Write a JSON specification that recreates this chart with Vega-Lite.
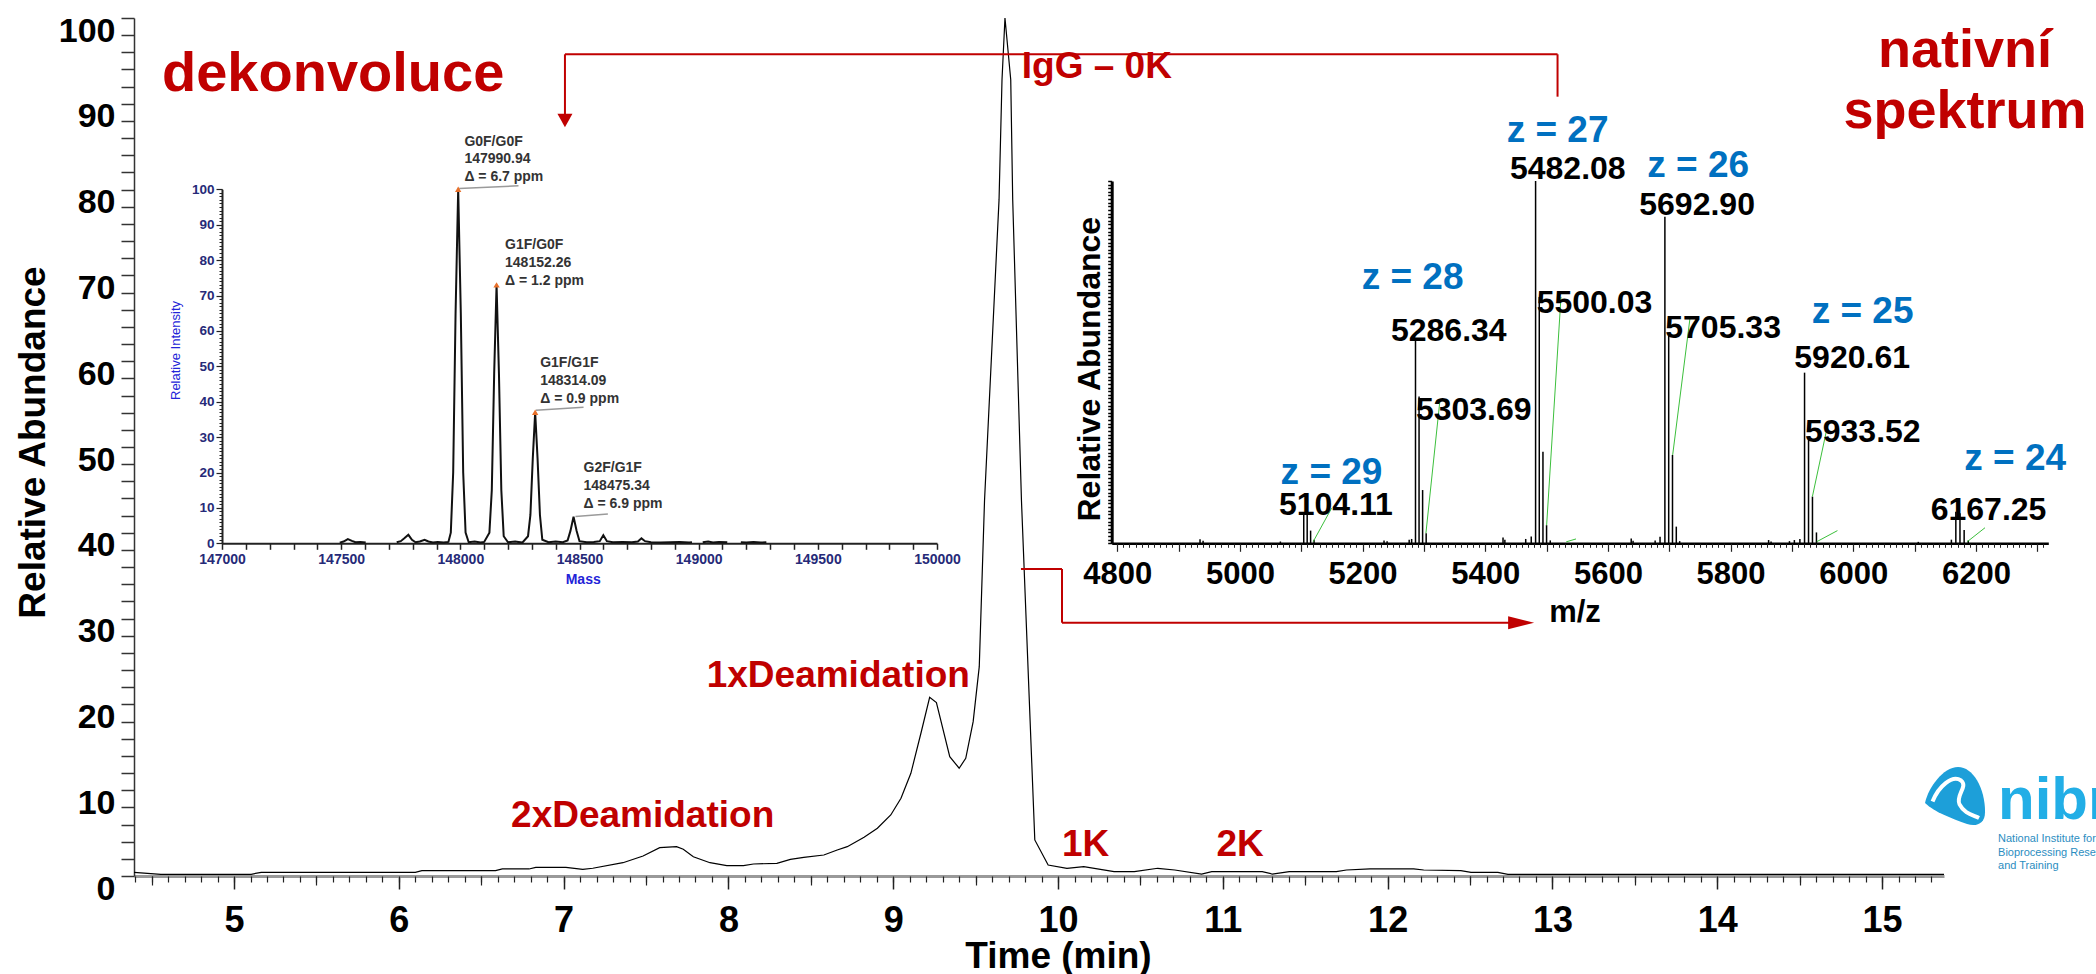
{
  "$schema": "https://vega.github.io/schema/vega-lite/v6.json",
  "width": 1810,
  "height": 858,
  "autosize": {"type": "none"},
  "padding": {"left": 134, "top": 18, "right": 152, "bottom": 98},
  "background": "white",
  "config": {"view": {"stroke": null}, "font": "Liberation Sans", "axis": {"grid": false}},
  "datasets": {
    "main": [
      {"t":4.393,"a":0.43},{"t":4.556,"a":0.2},{"t":5.104,"a":0.2},{"t":5.165,"a":0.43},{"t":6.10,"a":0.43},{"t":6.14,"a":0.62},{"t":6.587,"a":0.62},{"t":6.628,"a":0.82},{"t":6.79,"a":0.82},{"t":6.831,"a":1.01},{"t":7.014,"a":1.01},{"t":7.116,"a":0.78},{"t":7.177,"a":0.9},{"t":7.36,"a":1.55},{"t":7.482,"a":2.33},{"t":7.583,"a":3.3},{"t":7.685,"a":3.42},{"t":7.726,"a":3.11},{"t":7.787,"a":2.25},{"t":7.888,"a":1.55},{"t":7.99,"a":1.2},{"t":8.091,"a":1.2},{"t":8.152,"a":1.4},{"t":8.294,"a":1.48},{"t":8.376,"a":1.94},{"t":8.457,"a":2.18},{"t":8.579,"a":2.45},{"t":8.66,"a":3.03},{"t":8.721,"a":3.42},{"t":8.823,"a":4.51},{"t":8.904,"a":5.56},{"t":8.985,"a":7.11},{"t":9.047,"a":9.06},{"t":9.107,"a":11.97},{"t":9.168,"a":16.64},{"t":9.221,"a":20.83},{"t":9.262,"a":20.21},{"t":9.343,"a":13.91},{"t":9.4,"a":12.56},{"t":9.44,"a":13.72},{"t":9.485,"a":17.99},{"t":9.522,"a":24.4},{"t":9.554,"a":43.8},{"t":9.642,"a":78.8},{"t":9.66,"a":92.8},{"t":9.678,"a":100},{"t":9.713,"a":92.8},{"t":9.725,"a":78.8},{"t":9.778,"a":43.8},{"t":9.859,"a":4.2},{"t":9.94,"a":1.28},{"t":10.054,"a":0.9},{"t":10.156,"a":1.09},{"t":10.34,"a":0.5},{"t":10.463,"a":0.5},{"t":10.605,"a":0.9},{"t":10.708,"a":0.7},{"t":10.871,"a":0.23},{"t":10.933,"a":0.5},{"t":11.239,"a":0.5},{"t":11.3,"a":0.23},{"t":11.403,"a":0.5},{"t":11.689,"a":0.5},{"t":11.75,"a":0.7},{"t":11.893,"a":0.82},{"t":12.158,"a":0.82},{"t":12.219,"a":0.7},{"t":12.444,"a":0.62},{"t":12.506,"a":0.43},{"t":12.669,"a":0.43},{"t":12.73,"a":0.2},{"t":15.376,"a":0.2}
    ],
    "redSmall": [
      {"t":9.78,"a":92.97,"label":"IgG – 0K"},
      {"t":7.868,"a":22.06,"label":"1xDeamidation"},
      {"t":6.681,"a":5.75,"label":"2xDeamidation"},
      {"t":10.024,"a":2.33,"label":"1K"},
      {"t":10.961,"a":2.33,"label":"2K"}
    ],
    "redBigLeft": [{"t":4.563,"a":91.53,"label":"dekonvoluce"}],
    "redBigCenter": [
      {"t":15.503,"a":94.32,"label":"nativní"},
      {"t":15.503,"a":87.18,"label":"spektrum"}
    ],
    "arrows": [
      {"t1":7.008,"a1":95.77,"t2":13.031,"a2":95.77},
      {"t1":7.008,"a1":95.77,"t2":7.008,"a2":88.6},
      {"t1":13.031,"a1":95.77,"t2":13.031,"a2":90.83},
      {"t1":9.775,"a1":35.78,"t2":10.024,"a2":35.78},
      {"t1":10.024,"a1":35.78,"t2":10.024,"a2":29.52},
      {"t1":10.024,"a1":29.52,"t2":12.75,"a2":29.52}
    ],
    "headDown": [{"t":7.008,"a":88.05}],
    "headRight": [{"t":12.81,"a":29.52}],
    "logoBig": [{"t":15.704,"a":6.61,"label":"nibrt"}],
    "logoSmall": [
      {"t":15.704,"a":4.0,"label":"National Institute for"},
      {"t":15.704,"a":2.33,"label":"Bioprocessing Research"},
      {"t":15.704,"a":0.78,"label":"and Training"}
    ],
    "logoIcon": [{"t":15.443,"a":9.21}],
    "dec": [
      {"m":147494,"v":0.2,"seg":1},{"m":147510,"v":0.5,"seg":1},{"m":147528,"v":1.2,"seg":1},{"m":147545,"v":0.7,"seg":1},{"m":147560,"v":0.3,"seg":1},{"m":147580,"v":0.4,"seg":1},{"m":147603,"v":0.2,"seg":1},
      {"m":147733,"v":0.3,"seg":2},{"m":147750,"v":0.6,"seg":2},{"m":147765,"v":1.4,"seg":2},{"m":147782,"v":2.4,"seg":2},{"m":147797,"v":1.0,"seg":2},{"m":147812,"v":0.3,"seg":2},{"m":147830,"v":0.5,"seg":2},{"m":147850,"v":1.0,"seg":2},{"m":147866,"v":0.5,"seg":2},{"m":147885,"v":0.2,"seg":2},{"m":147905,"v":0.4,"seg":2},{"m":147930,"v":0.2,"seg":2},{"m":147950,"v":0.4,"seg":2},{"m":147960,"v":3,"seg":2},{"m":147970,"v":20,"seg":2},{"m":147980,"v":65,"seg":2},{"m":147991,"v":100,"seg":2},{"m":148002,"v":65,"seg":2},{"m":148012,"v":20,"seg":2},{"m":148022,"v":3,"seg":2},{"m":148035,"v":0.3,"seg":2},{"m":148060,"v":0.5,"seg":2},{"m":148085,"v":0.2,"seg":2},{"m":148100,"v":0.4,"seg":2},{"m":148122,"v":3,"seg":2},{"m":148132,"v":15,"seg":2},{"m":148142,"v":48,"seg":2},{"m":148152,"v":73,"seg":2},{"m":148162,"v":48,"seg":2},{"m":148172,"v":15,"seg":2},{"m":148182,"v":2,"seg":2},{"m":148200,"v":0.3,"seg":2},{"m":148230,"v":0.5,"seg":2},{"m":148260,"v":0.2,"seg":2},{"m":148284,"v":2,"seg":2},{"m":148294,"v":8,"seg":2},{"m":148304,"v":24,"seg":2},{"m":148314,"v":37,"seg":2},{"m":148324,"v":24,"seg":2},{"m":148334,"v":8,"seg":2},{"m":148344,"v":1,"seg":2},{"m":148370,"v":0.3,"seg":2},{"m":148400,"v":0.5,"seg":2},{"m":148430,"v":0.3,"seg":2},{"m":148450,"v":0.8,"seg":2},{"m":148462,"v":3.5,"seg":2},{"m":148475,"v":7.5,"seg":2},{"m":148488,"v":3.5,"seg":2},{"m":148500,"v":0.6,"seg":2},{"m":148530,"v":0.3,"seg":2},{"m":148560,"v":0.4,"seg":2},{"m":148585,"v":0.6,"seg":2},{"m":148600,"v":2.3,"seg":2},{"m":148615,"v":0.6,"seg":2},{"m":148640,"v":0.3,"seg":2},{"m":148680,"v":0.4,"seg":2},{"m":148720,"v":0.3,"seg":2},{"m":148745,"v":0.5,"seg":2},{"m":148760,"v":1.4,"seg":2},{"m":148775,"v":0.6,"seg":2},{"m":148800,"v":0.3,"seg":2},{"m":148840,"v":0.2,"seg":2},{"m":148880,"v":0.3,"seg":2},{"m":148920,"v":0.4,"seg":2},{"m":148960,"v":0.2,"seg":2},{"m":148972,"v":0.3,"seg":2},
      {"m":149017,"v":0.3,"seg":3},{"m":149040,"v":0.5,"seg":3},{"m":149060,"v":0.2,"seg":3},{"m":149085,"v":0.4,"seg":3},{"m":149120,"v":0.3,"seg":3},
      {"m":149177,"v":0.3,"seg":4},{"m":149200,"v":0.2,"seg":4},{"m":149230,"v":0.4,"seg":4},{"m":149260,"v":0.2,"seg":4},{"m":149284,"v":0.3,"seg":4}
    ],
    "decTops": [{"m":147991,"v":100},{"m":148152,"v":73},{"m":148314,"v":37}],
    "decLeaders": [
      {"m1":147995,"v1":100.2,"m2":148244,"v2":101},
      {"m1":148317,"v1":37.6,"m2":148517,"v2":38.4},
      {"m1":148483,"v1":7.6,"m2":148619,"v2":8.3}
    ],
    "decLabels": [
      {"m":148017,"v":112.3,"label":"G0F/G0F"},{"m":148017,"v":107.3,"label":"147990.94"},{"m":148017,"v":102.3,"label":"Δ = 6.7 ppm"},
      {"m":148187.5,"v":83.05,"label":"G1F/G0F"},{"m":148187.5,"v":78.0,"label":"148152.26"},{"m":148187.5,"v":72.97,"label":"Δ = 1.2 ppm"},
      {"m":148335,"v":49.9,"label":"G1F/G1F"},{"m":148335,"v":44.7,"label":"148314.09"},{"m":148335,"v":39.7,"label":"Δ = 0.9 ppm"},
      {"m":148517,"v":20.06,"label":"G2F/G1F"},{"m":148517,"v":15.06,"label":"148475.34"},{"m":148517,"v":9.9,"label":"Δ = 6.9 ppm"}
    ],
    "nat": [
      {"mz":4935,"ab":1.1},{"mz":4940,"ab":0.7},{"mz":5066,"ab":0.5},{"mz":5104.1,"ab":8.3},{"mz":5109.7,"ab":7.8},{"mz":5115.3,"ab":3.5},{"mz":5120.9,"ab":1.0},{"mz":5235,"ab":0.8},{"mz":5240,"ab":0.6},{"mz":5276,"ab":1.0},{"mz":5280,"ab":1.2},{"mz":5286.3,"ab":56.1},{"mz":5292.1,"ab":40.5},{"mz":5297.9,"ab":14.7},{"mz":5303.7,"ab":2.8},{"mz":5429,"ab":1.6},{"mz":5432,"ab":1.0},{"mz":5466,"ab":1.2},{"mz":5475,"ab":1.9},{"mz":5482.1,"ab":100},{"mz":5488.1,"ab":68},{"mz":5494.1,"ab":25.3},{"mz":5500.0,"ab":5.0},{"mz":5506,"ab":0.8},{"mz":5638,"ab":1.3},{"mz":5641,"ab":0.7},{"mz":5677,"ab":0.8},{"mz":5685,"ab":1.8},{"mz":5692.9,"ab":90.1},{"mz":5699.1,"ab":58},{"mz":5705.3,"ab":24.4},{"mz":5711.5,"ab":4.6},{"mz":5717,"ab":0.6},{"mz":5862,"ab":0.9},{"mz":5866,"ab":0.5},{"mz":5896,"ab":0.6},{"mz":5904,"ab":0.9},{"mz":5913,"ab":1.2},{"mz":5920.6,"ab":47.1},{"mz":5927.1,"ab":29.4},{"mz":5933.5,"ab":12.9},{"mz":5940.0,"ab":3.0},{"mz":6106,"ab":0.4},{"mz":6160,"ab":1.0},{"mz":6167.25,"ab":8.7},{"mz":6174.0,"ab":8.3},{"mz":6180.8,"ab":3.7},{"mz":6187.5,"ab":0.8}
    ],
    "natLeaders": [
      {"m1":5119.5,"v1":0.45,"m2":5149.5,"v2":9.7},
      {"m1":5303.3,"v1":2.8,"m2":5326.2,"v2":39.6},
      {"m1":5500.1,"v1":5.0,"m2":5523.5,"v2":68},
      {"m1":5532,"v1":0.4,"m2":5548,"v2":1.2},
      {"m1":5705.6,"v1":24.4,"m2":5733.8,"v2":62.1},
      {"m1":5933.4,"v1":12.9,"m2":5959.5,"v2":33.6},
      {"m1":5940.6,"v1":0.45,"m2":5974.2,"v2":3.5},
      {"m1":6186,"v1":0.45,"m2":6214.8,"v2":4.3}
    ],
    "natLabels": [
      {"mz":5063.7,"ab":7.8,"label":"5104.11"},
      {"mz":5246.3,"ab":55.9,"label":"5286.34"},
      {"mz":5287.0,"ab":34.0,"label":"5303.69"},
      {"mz":5440.3,"ab":100.6,"label":"5482.08"},
      {"mz":5483.8,"ab":63.5,"label":"5500.03"},
      {"mz":5651.1,"ab":90.6,"label":"5692.90"},
      {"mz":5693.5,"ab":56.6,"label":"5705.33"},
      {"mz":5903.9,"ab":48.3,"label":"5920.61"},
      {"mz":5921.3,"ab":28.0,"label":"5933.52"},
      {"mz":6126.3,"ab":6.4,"label":"6167.25"}
    ],
    "natZ": [
      {"mz":5066.4,"ab":16.4,"label":"z = 29"},
      {"mz":5198.5,"ab":70.1,"label":"z = 28"},
      {"mz":5434.9,"ab":110.8,"label":"z = 27"},
      {"mz":5664.2,"ab":101.2,"label":"z = 26"},
      {"mz":5932.2,"ab":60.9,"label":"z = 25"},
      {"mz":6181.1,"ab":20.2,"label":"z = 24"}
    ]
  },
  "resolve": {"scale": {"x": "independent", "y": "independent"}, "axis": {"x": "independent", "y": "independent"}},
  "layer": [
    {
      "data": {"name": "main"},
      "mark": {"type": "line", "color": "black", "strokeWidth": 1.2},
      "encoding": {
        "x": {"field": "t", "type": "quantitative", "scale": {"domain": [4.393, 15.376], "nice": false, "zero": false},
          "axis": {"orient": "bottom", "title": "Time (min)", "values": [5, 6, 7, 8, 9, 10, 11, 12, 13, 14, 15],
            "labelOverlap": false, "labelFlush": false, "labelBound": false,
            "labelFont": "Liberation Sans", "labelFontWeight": "bold", "labelFontSize": 36, "labelColor": "black", "labelPadding": 14,
            "tickSize": 13,
            "tickColor": "#222", "tickWidth": 1.5, "domainColor": "#999", "domainWidth": 3,
            "titleFont": "Liberation Sans", "titleFontWeight": "bold", "titleFontSize": 37, "titleColor": "black",
            "titleX": 924, "titleY": 91, "titleBaseline": "alphabetic"}},
        "y": {"field": "a", "type": "quantitative", "scale": {"domain": [0, 100], "nice": false, "zero": false},
          "axis": {"orient": "left", "title": "Relative Abundance", "tickCount": 50,
            "labelExpr": "datum.value % 10 === 0 ? datum.label : ''",
            "labelOverlap": false, "labelFlush": false, "labelBound": false,
            "labelFont": "Liberation Sans", "labelFontWeight": "bold", "labelFontSize": 34, "labelColor": "black",
            "labelBaseline": "top", "labelOffset": -4, "labelPadding": 6,
            "tickSize": 13, "tickColor": "#333", "tickWidth": 1.5, "domainColor": "#333", "domainWidth": 1.5,
            "titleFont": "Liberation Sans", "titleFontWeight": "bold", "titleFontSize": 37, "titleColor": "black",
            "titleX": -90, "titleY": 424, "titleBaseline": "alphabetic"}}
      }
    },
    {
      "data": {"name": "arrows"},
      "mark": {"type": "rule", "color": "#c00000", "strokeWidth": 2},
      "encoding": {
        "x": {"field": "t1", "type": "quantitative", "scale": {"domain": [4.393, 15.376], "nice": false, "zero": false},
          "axis": {"orient": "bottom", "title": null, "tickCount": 110, "labels": false, "domain": false, "tickSize": 6, "tickColor": "#222", "tickWidth": 1.2}},
        "x2": {"field": "t2"},
        "y": {"field": "a1", "type": "quantitative", "scale": {"domain": [0, 100], "nice": false, "zero": false}, "axis": null},
        "y2": {"field": "a2"}
      }
    },
    {
      "data": {"name": "headDown"},
      "mark": {"type": "point", "shape": "M-1,-0.9L1,-0.9L0,0.9Z", "size": 225, "filled": true, "color": "#c00000", "opacity": 1},
      "encoding": {
        "x": {"field": "t", "type": "quantitative", "scale": {"domain": [4.393, 15.376], "nice": false, "zero": false},
          "axis": {"orient": "bottom", "title": null, "values": [4.5, 5.5, 6.5, 7.5, 8.5, 9.5, 10.5, 11.5, 12.5, 13.5, 14.5], "labels": false, "domain": false, "tickSize": 9, "tickColor": "#222", "tickWidth": 1.2}},
        "y": {"field": "a", "type": "quantitative", "scale": {"domain": [0, 100], "nice": false, "zero": false}, "axis": null}
      }
    },
    {
      "data": {"name": "headRight"},
      "mark": {"type": "point", "shape": "M-1,-0.5L1,0L-1,0.5Z", "size": 676, "filled": true, "color": "#c00000", "opacity": 1},
      "encoding": {
        "x": {"field": "t", "type": "quantitative", "scale": {"domain": [4.393, 15.376], "nice": false, "zero": false}, "axis": null},
        "y": {"field": "a", "type": "quantitative", "scale": {"domain": [0, 100], "nice": false, "zero": false}, "axis": null}
      }
    },
    {
      "data": {"name": "redSmall"},
      "mark": {"type": "text", "align": "left", "baseline": "alphabetic", "font": "Liberation Sans", "fontWeight": "bold", "fontSize": 37, "color": "#c00000"},
      "encoding": {
        "x": {"field": "t", "type": "quantitative", "scale": {"domain": [4.393, 15.376], "nice": false, "zero": false}, "axis": null},
        "y": {"field": "a", "type": "quantitative", "scale": {"domain": [0, 100], "nice": false, "zero": false}, "axis": null},
        "text": {"field": "label"}
      }
    },
    {
      "data": {"name": "redBigLeft"},
      "mark": {"type": "text", "align": "left", "baseline": "alphabetic", "font": "Liberation Sans", "fontWeight": "bold", "fontSize": 56, "color": "#c00000"},
      "encoding": {
        "x": {"field": "t", "type": "quantitative", "scale": {"domain": [4.393, 15.376], "nice": false, "zero": false}, "axis": null},
        "y": {"field": "a", "type": "quantitative", "scale": {"domain": [0, 100], "nice": false, "zero": false}, "axis": null},
        "text": {"field": "label"}
      }
    },
    {
      "data": {"name": "redBigCenter"},
      "mark": {"type": "text", "align": "center", "baseline": "alphabetic", "font": "Liberation Sans", "fontWeight": "bold", "fontSize": 54, "color": "#c00000"},
      "encoding": {
        "x": {"field": "t", "type": "quantitative", "scale": {"domain": [4.393, 15.376], "nice": false, "zero": false}, "axis": null},
        "y": {"field": "a", "type": "quantitative", "scale": {"domain": [0, 100], "nice": false, "zero": false}, "axis": null},
        "text": {"field": "label"}
      }
    },
    {
      "data": {"name": "logoIcon"},
      "mark": {"type": "point", "shape": "M0.1,-1C0.6,-1 1,-0.3 1,0.5C1,0.9 0.7,1 0.4,0.9C-0.1,0.72 -0.7,0.5 -1,0.2C-0.9,-0.3 -0.4,-1 0.1,-1Z", "size": 3600, "filled": true, "color": "#1d9fd9", "opacity": 1},
      "encoding": {
        "x": {"field": "t", "type": "quantitative", "scale": {"domain": [4.393, 15.376], "nice": false, "zero": false}, "axis": null},
        "y": {"field": "a", "type": "quantitative", "scale": {"domain": [0, 100], "nice": false, "zero": false}, "axis": null}
      }
    },
    {
      "data": {"name": "logoIcon"},
      "mark": {"type": "point", "shape": "M-0.75,0.15C-0.55,-0.35 -0.1,-0.75 0.2,-0.55C0.45,-0.35 0,-0.05 0.15,0.25C0.3,0.55 0.6,0.6 0.8,0.7", "size": 3600, "filled": false, "color": "white", "strokeWidth": 4, "opacity": 1},
      "encoding": {
        "x": {"field": "t", "type": "quantitative", "scale": {"domain": [4.393, 15.376], "nice": false, "zero": false}, "axis": null},
        "y": {"field": "a", "type": "quantitative", "scale": {"domain": [0, 100], "nice": false, "zero": false}, "axis": null}
      }
    },
    {
      "data": {"name": "logoBig"},
      "mark": {"type": "text", "align": "left", "baseline": "alphabetic", "font": "Liberation Sans", "fontWeight": "bold", "fontSize": 60, "color": "#22aee6"},
      "encoding": {
        "x": {"field": "t", "type": "quantitative", "scale": {"domain": [4.393, 15.376], "nice": false, "zero": false}, "axis": null},
        "y": {"field": "a", "type": "quantitative", "scale": {"domain": [0, 100], "nice": false, "zero": false}, "axis": null},
        "text": {"field": "label"}
      }
    },
    {
      "data": {"name": "logoSmall"},
      "mark": {"type": "text", "align": "left", "baseline": "alphabetic", "font": "Liberation Sans", "fontSize": 11, "color": "#2b8dbf"},
      "encoding": {
        "x": {"field": "t", "type": "quantitative", "scale": {"domain": [4.393, 15.376], "nice": false, "zero": false}, "axis": null},
        "y": {"field": "a", "type": "quantitative", "scale": {"domain": [0, 100], "nice": false, "zero": false}, "axis": null},
        "text": {"field": "label"}
      }
    },
    {
      "data": {"name": "dec"},
      "mark": {"type": "line", "color": "#111", "strokeWidth": 2},
      "encoding": {
        "x": {"field": "m", "type": "quantitative", "scale": {"domain": [147000, 150000], "range": [88, 803], "nice": false, "zero": false},
          "axis": {"orient": "bottom", "offset": -332.7, "title": "Mass", "tickCount": 30,
            "labelExpr": "datum.value % 500 === 0 ? format(datum.value, 'd') : ''",
            "labelOverlap": false, "labelFlush": false, "labelBound": false,
            "labelFont": "Liberation Sans", "labelFontWeight": "bold", "labelFontSize": 14, "labelColor": "#262a78", "labelPadding": 3,
            "tickSize": 6, "tickColor": "#222", "tickWidth": 1.5, "domainColor": "#222", "domainWidth": 2,
            "titleFont": "Liberation Sans", "titleFontWeight": "bold", "titleFontSize": 14, "titleColor": "#2323d8",
            "titleX": 448.7, "titleY": 40, "titleBaseline": "alphabetic"}},
        "y": {"field": "v", "type": "quantitative", "scale": {"domain": [0, 100], "range": [525.3, 171.3], "nice": false, "zero": false},
          "axis": {"orient": "left", "offset": -88, "title": "Relative Intensity", "tickCount": 10,
            "labelOverlap": false, "labelFlush": false, "labelBound": false,
            "labelFont": "Liberation Sans", "labelFontWeight": "bold", "labelFontSize": 13.5, "labelColor": "#262a78", "labelPadding": 2,
            "tickSize": 6,
            "tickColor": "#222", "tickWidth": 1.2, "domainColor": "#222", "domainWidth": 2,
            "titleFont": "Liberation Sans", "titleFontWeight": "normal", "titleFontSize": 13, "titleColor": "#2323d8",
            "titleX": -43, "titleY": 332, "titleBaseline": "alphabetic"}},
        "detail": {"field": "seg"}
      }
    },
    {
      "data": {"name": "decLeaders"},
      "mark": {"type": "rule", "color": "#9a9a9a", "strokeWidth": 1.5},
      "encoding": {
        "x": {"field": "m1", "type": "quantitative", "scale": {"domain": [147000, 150000], "range": [88, 803], "nice": false, "zero": false}, "axis": null},
        "x2": {"field": "m2"},
        "y": {"field": "v1", "type": "quantitative", "scale": {"domain": [0, 100], "range": [525.3, 171.3], "nice": false, "zero": false},
          "axis": {"orient": "left", "offset": -88, "title": null, "tickCount": 100, "labels": false, "domain": false, "tickSize": 3, "tickColor": "#222", "tickWidth": 1}},
        "y2": {"field": "v2"}
      }
    },
    {
      "data": {"name": "decTops"},
      "mark": {"type": "point", "shape": "triangle-up", "size": 40, "filled": true, "color": "#e8702a", "opacity": 1},
      "encoding": {
        "x": {"field": "m", "type": "quantitative", "scale": {"domain": [147000, 150000], "range": [88, 803], "nice": false, "zero": false}, "axis": null},
        "y": {"field": "v", "type": "quantitative", "scale": {"domain": [0, 100], "range": [525.3, 171.3], "nice": false, "zero": false}, "axis": null}
      }
    },
    {
      "data": {"name": "decLabels"},
      "mark": {"type": "text", "align": "left", "baseline": "alphabetic", "font": "Liberation Sans", "fontWeight": "bold", "fontSize": 14, "color": "#333"},
      "encoding": {
        "x": {"field": "m", "type": "quantitative", "scale": {"domain": [147000, 150000], "range": [88, 803], "nice": false, "zero": false}, "axis": null},
        "y": {"field": "v", "type": "quantitative", "scale": {"domain": [0, 100], "range": [525.3, 171.3], "nice": false, "zero": false}, "axis": null},
        "text": {"field": "label"}
      }
    },
    {
      "data": {"name": "nat"},
      "mark": {"type": "rule", "color": "black", "strokeWidth": 1.5},
      "encoding": {
        "x": {"field": "mz", "type": "quantitative", "scale": {"domain": [4791, 6318], "range": [977.7, 1914.3], "nice": false, "zero": false},
          "axis": {"orient": "bottom", "offset": -332.7, "title": "m/z", "tickCount": 15,
            "labelExpr": "datum.value % 200 === 0 ? format(datum.value, 'd') : ''",
            "labelOverlap": false, "labelFlush": false, "labelBound": false,
            "labelFont": "Liberation Sans", "labelFontWeight": "bold", "labelFontSize": 31, "labelColor": "black", "labelPadding": 8,
            "tickSize": 8,
            "tickColor": "#222", "tickWidth": 1.2, "domainColor": "black", "domainWidth": 2.5,
            "titleFont": "Liberation Sans", "titleFontWeight": "bold", "titleFontSize": 31, "titleColor": "black",
            "titleX": 1440.5, "titleY": 78.4, "titleBaseline": "alphabetic"}},
        "y": {"field": "ab", "type": "quantitative", "scale": {"domain": [0, 100], "range": [525.3, 163], "nice": false, "zero": false},
          "axis": {"orient": "left", "offset": -977.7, "title": "Relative Abundance", "tickCount": 100, "labels": false,
            "tickSize": 4, "tickWidth": 1.5, "tickColor": "black", "domainColor": "black", "domainWidth": 3,
            "titleFont": "Liberation Sans", "titleFontWeight": "bold", "titleFontSize": 32, "titleColor": "black",
            "titleX": -12.4, "titleY": 350.7, "titleBaseline": "alphabetic"}},
        "y2": {"datum": 0}
      }
    },
    {
      "data": {"name": "natLeaders"},
      "mark": {"type": "rule", "color": "#3cbf3c", "strokeWidth": 1},
      "encoding": {
        "x": {"field": "m1", "type": "quantitative", "scale": {"domain": [4791, 6318], "range": [977.7, 1914.3], "nice": false, "zero": false},
          "axis": {"orient": "bottom", "offset": -332.7, "title": null, "tickCount": 153, "labels": false, "domain": false, "tickSize": 4, "tickColor": "#222", "tickWidth": 1}},
        "x2": {"field": "m2"},
        "y": {"field": "v1", "type": "quantitative", "scale": {"domain": [0, 100], "range": [525.3, 163], "nice": false, "zero": false}, "axis": null},
        "y2": {"field": "v2"}
      }
    },
    {
      "data": {"name": "natLabels"},
      "mark": {"type": "text", "align": "left", "baseline": "alphabetic", "font": "Liberation Sans", "fontWeight": "bold", "fontSize": 32, "color": "black"},
      "encoding": {
        "x": {"field": "mz", "type": "quantitative", "scale": {"domain": [4791, 6318], "range": [977.7, 1914.3], "nice": false, "zero": false}, "axis": null},
        "y": {"field": "ab", "type": "quantitative", "scale": {"domain": [0, 100], "range": [525.3, 163], "nice": false, "zero": false}, "axis": null},
        "text": {"field": "label"}
      }
    },
    {
      "data": {"name": "natZ"},
      "mark": {"type": "text", "align": "left", "baseline": "alphabetic", "font": "Liberation Sans", "fontWeight": "bold", "fontSize": 37, "color": "#0070c0"},
      "encoding": {
        "x": {"field": "mz", "type": "quantitative", "scale": {"domain": [4791, 6318], "range": [977.7, 1914.3], "nice": false, "zero": false}, "axis": null},
        "y": {"field": "ab", "type": "quantitative", "scale": {"domain": [0, 100], "range": [525.3, 163], "nice": false, "zero": false}, "axis": null},
        "text": {"field": "label"}
      }
    }
  ]
}
